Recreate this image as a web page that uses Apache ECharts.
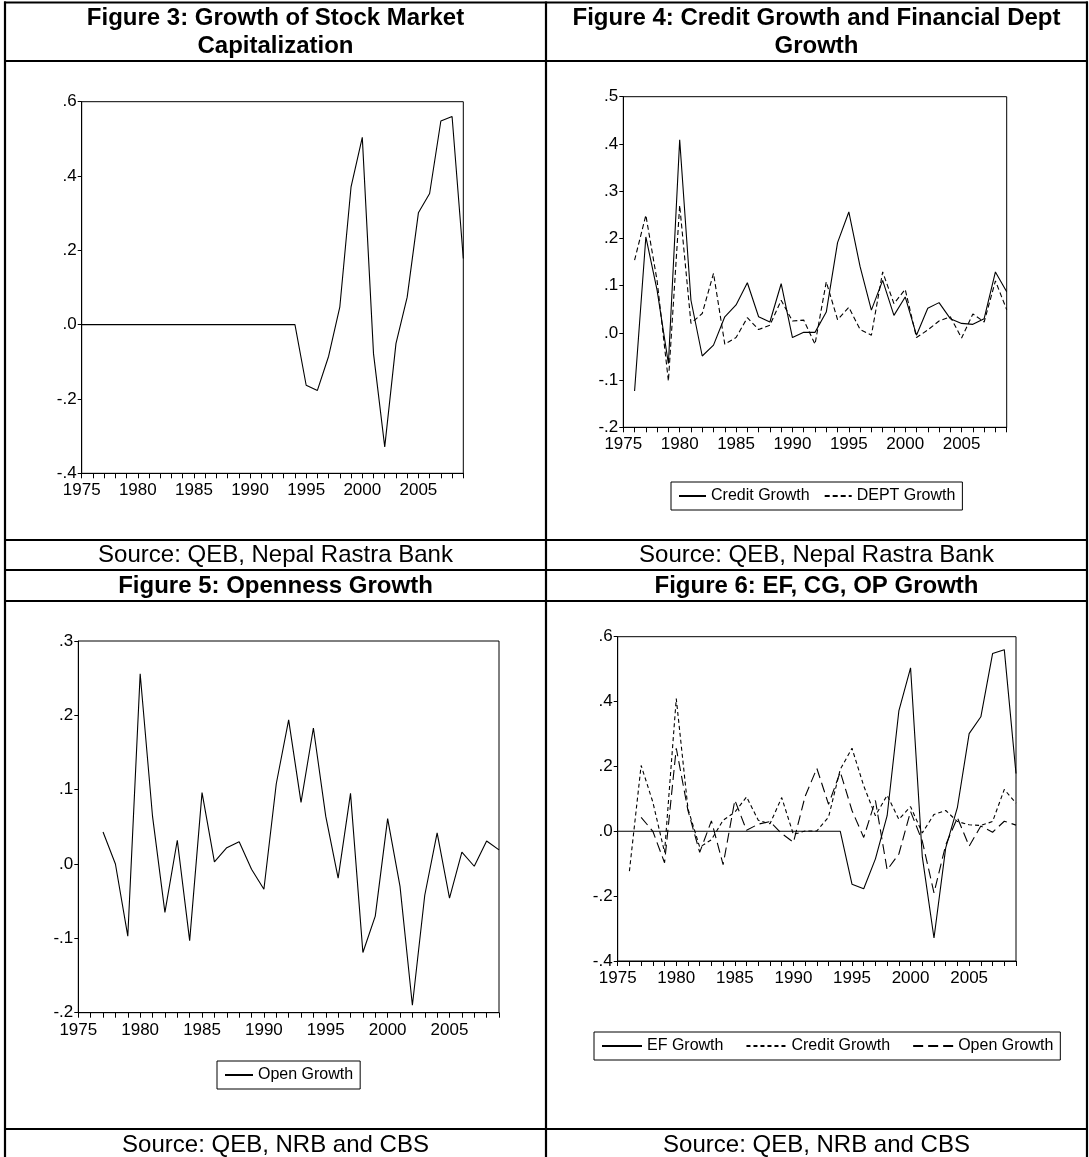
<!DOCTYPE html>
<html>
<head>
<meta charset="utf-8">
<script src="https://cdn.jsdelivr.net/npm/echarts@6/dist/echarts.min.js"></script>
<style>
html,body{margin:0;padding:0;background:#fff;}
#c{width:1089px;height:1157px;}
</style>
</head>
<body>
<div id="c"></div>
<script>
// ---------------- DATA ----------------
const years = ['1975','1976','1977','1978','1979','1980','1981','1982','1983','1984',
  '1985','1986','1987','1988','1989','1990','1991','1992','1993','1994',
  '1995','1996','1997','1998','1999','2000','2001','2002','2003','2004',
  '2005','2006','2007','2008','2009'];

// Stock market capitalization growth (EF Growth)
const efGrowth = [0,0,0,0,0,0,0,0,0,0,
  0,0,0,0,0,0,0,0,0,0,
  -0.163,-0.177,-0.085,0.048,0.371,0.504,-0.078,-0.329,-0.051,0.074,
  0.301,0.353,0.548,0.560,0.178];

const creditGrowth = [null,-0.123,0.203,0.090,-0.065,0.409,0.069,-0.049,-0.026,0.034,
  0.059,0.106,0.034,0.023,0.104,-0.010,0.001,0.001,0.044,0.191,
  0.256,0.140,0.048,0.111,0.037,0.076,-0.005,0.052,0.064,0.030,
  0.020,0.018,0.030,0.129,0.087];

const deptGrowth = [null,0.154,0.249,0.110,-0.102,0.270,0.020,0.041,0.126,-0.024,
  -0.010,0.032,0.007,0.016,0.069,0.025,0.027,-0.024,0.108,0.028,
  0.054,0.007,-0.005,0.129,0.062,0.092,-0.010,0.006,0.025,0.034,
  -0.011,0.040,0.023,0.110,0.049];

const openGrowth = [null,null,0.043,0.000,-0.097,0.256,0.064,-0.065,0.032,-0.103,
  0.096,0.003,0.022,0.030,-0.007,-0.034,0.108,0.194,0.083,0.183,
  0.064,-0.019,0.095,-0.119,-0.070,0.061,-0.030,-0.190,-0.042,0.042,
  -0.046,0.016,-0.003,0.031,0.019];

// y-axis ranges [min, max, step]
const yRangeFig3 = [-0.4, 0.6, 0.2];
const yRangeFig4 = [-0.2, 0.5, 0.1];
const yRangeFig5 = [-0.2, 0.3, 0.1];
const yRangeFig6 = [-0.4, 0.6, 0.2];

const titles = [
  ['Figure 3: Growth of Stock Market', 'Capitalization'],
  ['Figure 4: Credit Growth and Financial Dept', 'Growth'],
  ['Figure 5: Openness Growth'],
  ['Figure 6: EF, CG, OP Growth']
];
const sources = ['Source: QEB, Nepal Rastra Bank','Source: QEB, Nepal Rastra Bank',
  'Source: QEB, NRB and CBS','Source: QEB, NRB and CBS'];

// ---------------- STYLE ----------------
const SANS = "'Liberation Sans',Arial,Helvetica,sans-serif";
const FS_AX = 17;
const FS_LG = 16;

function fmt(v){
  const a = Math.abs(v) < 1e-9 ? 0 : v;
  return (a < 0 ? '-' : '') + Math.abs(a).toFixed(1).replace(/^0/, '');
}

const grids = [
  {left:81.7, top:101.7, width:381.6, height:371.6},
  {left:623.3, top:96.7, width:383.4, height:330.6},
  {left:78.3, top:641, width:420.7, height:371.7},
  {left:617.7, top:636.7, width:398.3, height:324.3}
].map(g => Object.assign({show:true, borderColor:'#000', borderWidth:1,
  backgroundColor:'transparent', containLabel:false, outerBoundsMode:'none'}, g));

function xAxis(gi){
  return {type:'category', gridIndex:gi, data:years, boundaryGap:false,
    axisLine:{show:true, onZero:false, lineStyle:{color:'#000', width:1}},
    axisTick:{show:true, interval:0, inside:false, length:5, lineStyle:{color:'#000', width:1}},
    axisLabel:{interval:4, color:'#000', fontSize:FS_AX, fontFamily:SANS, margin:9},
    splitLine:{show:false}};
}
function yAxis(gi, r){
  return {type:'value', gridIndex:gi, min:r[0], max:r[1], interval:r[2],
    axisLine:{show:true, lineStyle:{color:'#000', width:1}},
    axisTick:{show:true, length:4, lineStyle:{color:'#000', width:1}},
    axisLabel:{formatter:fmt, color:'#000', fontSize:FS_AX, fontFamily:SANS, margin:5},
    splitLine:{show:false}};
}
function line(name, gi, data, dash){
  return {type:'line', name:name, xAxisIndex:gi, yAxisIndex:gi, data:data,
    symbol:'none', showSymbol:false, silent:true, connectNulls:false,
    itemStyle:{color:'#000'},
    lineStyle:{color:'#000', width:1.1, type: dash || 'solid'}};
}
function legend(left, top, names, itemWidth, gap){
  return {left:left, top:top, width:470, data:names, orient:'horizontal',
    formatter: n => n.split('|')[1], selectedMode:false,
    itemWidth:itemWidth, itemHeight:12, itemGap:gap,
    itemStyle:{color:'rgba(0,0,0,0)', borderWidth:0, opacity:0},
    padding:[6,7,6,7], borderColor:'#000', borderWidth:1, backgroundColor:'#fff',
    textStyle:{color:'#000', fontSize:FS_LG, fontFamily:SANS}};
}

// table graphic
const LW = 2.2;
const g = [];
function hl(y, x1, x2){ g.push({type:'line', shape:{x1:x1, y1:y, x2:x2, y2:y}, style:{stroke:'#000', lineWidth:LW}, silent:true}); }
function vl(x, y1, y2){ g.push({type:'line', shape:{x1:x, y1:y1, x2:x, y2:y2}, style:{stroke:'#000', lineWidth:LW}, silent:true}); }
[2.5, 61, 540, 570, 601, 1129].forEach(y => hl(y, 4, 1088));
[5, 546, 1087].forEach(x => vl(x, 1.5, 1157));
function txt(x, y, s, bold){
  g.push({type:'text', x:x, y:y, silent:true,
    style:{text:s, fill:'#000', font:(bold?'bold ':'') + '24px ' + SANS,
      textAlign:'center', textVerticalAlign:'middle', align:'center', verticalAlign:'middle'}});
}
const cx = [275.5, 816.5];
txt(cx[0], 18, titles[0][0], true); txt(cx[0], 46, titles[0][1], true);
txt(cx[1], 18, titles[1][0], true); txt(cx[1], 46, titles[1][1], true);
txt(cx[0], 586, titles[2][0], true); txt(cx[1], 586, titles[3][0], true);
txt(cx[0], 555.5, sources[0], false); txt(cx[1], 555.5, sources[1], false);
txt(cx[0], 1145, sources[2], false); txt(cx[1], 1145, sources[3], false);

const option = {
  animation:false,
  backgroundColor:'#fff',
  grid: grids,
  xAxis: [xAxis(0), xAxis(1), xAxis(2), xAxis(3)],
  yAxis: [yAxis(0, yRangeFig3), yAxis(1, yRangeFig4), yAxis(2, yRangeFig5), yAxis(3, yRangeFig6)],
  legend: [
    legend(671, 482, ['F4|Credit Growth','F4|DEPT Growth'], 27, 14),
    legend(217, 1061, ['F5|Open Growth'], 28, 14),
    legend(594, 1032, ['F6|EF Growth','F6|Credit Growth','F6|Open Growth'], 40, 22)
  ],
  series: [
    line('F3|EF Growth', 0, efGrowth),
    line('F4|Credit Growth', 1, creditGrowth),
    line('F4|DEPT Growth', 1, deptGrowth, [5,3]),
    line('F5|Open Growth', 2, openGrowth),
    line('F6|EF Growth', 3, efGrowth),
    line('F6|Credit Growth', 3, creditGrowth, [4,3]),
    line('F6|Open Growth', 3, openGrowth, [10,5])
  ],
  graphic: g
};
const chart = echarts.init(document.getElementById('c'), null, {renderer:'canvas'});
chart.setOption(option);
</script>
</body>
</html>
